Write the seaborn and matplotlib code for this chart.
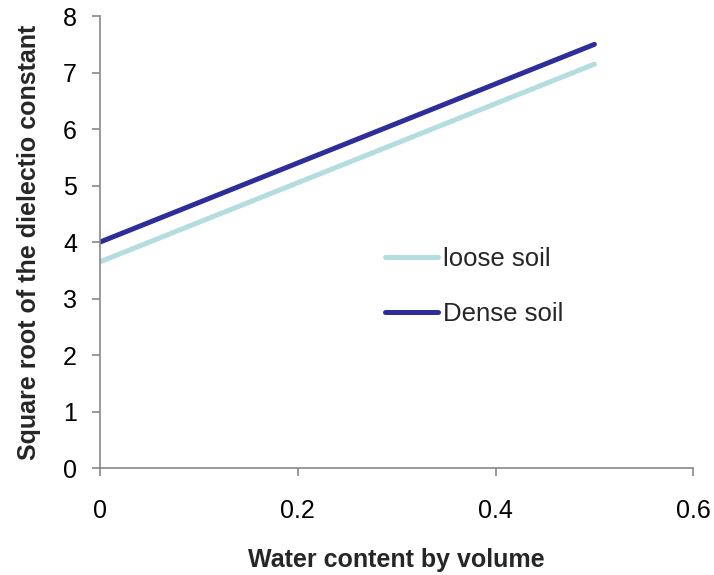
import matplotlib
matplotlib.use("Agg")
import matplotlib.pyplot as plt
import seaborn as sns
import pandas as pd

water = [0.0, 0.5]
loose_soil = [3.65, 7.15]
dense_soil = [4.0, 7.5]
series_names = ["loose soil", "Dense soil"]
x_ticks = [0, 0.2, 0.4, 0.6]
x_tick_labels = ["0", "0.2", "0.4", "0.6"]
y_ticks = [0, 1, 2, 3, 4, 5, 6, 7, 8]

df = pd.DataFrame({
    "x": water * 2,
    "y": loose_soil + dense_soil,
    "series": [series_names[0]] * 2 + [series_names[1]] * 2,
})

sns.set_theme(style="white")
plt.rcParams["font.family"] = ["Liberation Sans", "DejaVu Sans"]

fig = plt.figure(figsize=(7.14, 5.75), dpi=100)
ax = fig.add_axes([0.140, 0.186, 0.831, 0.786])

palette = {"loose soil": "#B4DDE0", "Dense soil": "#2E2E9A"}
sns.lineplot(data=df, x="x", y="y", hue="series", palette=palette, ax=ax,
             linewidth=3.6, solid_capstyle="round")

ax.set_xlim(0, 0.6)
ax.set_ylim(0, 8)
ax.set_xticks(x_ticks)
ax.set_xticklabels(x_tick_labels)
ax.set_yticks(y_ticks)
ax.tick_params(axis="both", labelsize=18, colors="#888888", labelcolor="black",
               direction="out", length=5.5, width=1.2, bottom=True, left=True)
ax.tick_params(axis="x", pad=17)
ax.tick_params(axis="y", pad=11)
for s in ["top", "right"]:
    ax.spines[s].set_visible(False)
for s in ["left", "bottom"]:
    ax.spines[s].set_color("#888888")
    ax.spines[s].set_linewidth(1.2)

ax.set_xlabel("Water content by volume", fontsize=18, fontweight="bold", labelpad=17.5)
ax.set_ylabel("Square root of the dielectio constant", fontsize=18, fontweight="bold", labelpad=16)

leg = ax.legend(loc="center left", bbox_to_anchor=(385 / 714, 1 - 286.5 / 575),
                bbox_transform=fig.transFigure, frameon=False, borderpad=0, borderaxespad=0,
                fontsize=18.5, handlelength=2.05, handletextpad=0.2, labelspacing=1.2)
for line in leg.get_lines():
    line.set_linewidth(3.6)
    line.set_solid_capstyle("round")

fig.savefig("out.png", dpi=100)
